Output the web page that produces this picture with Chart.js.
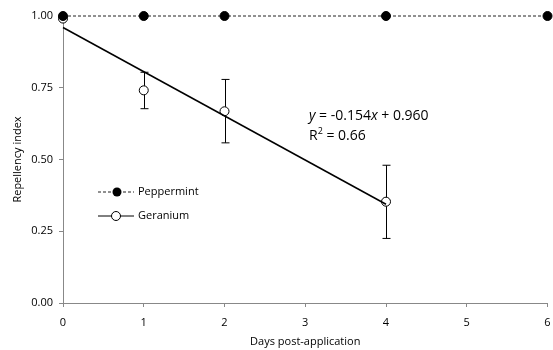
<!DOCTYPE html>
<html>
<head>
<meta charset="utf-8">
<script src="https://cdn.jsdelivr.net/npm/chart.js@4.4.1/dist/chart.umd.min.js"></script>
<style>
  html, body { margin: 0; padding: 0; background: #fff; }
  #wrap { width: 553px; height: 350px; position: relative; }
</style>
</head>
<body>
<div id="wrap"><canvas id="chart1"></canvas></div>
<script>
// datos
var days = [0, 1, 2, 4, 6];
var peppermint = [1.00, 1.00, 1.00, 1.00, 1.00];
var geraniumDays = [0, 1, 2, 4];
var geranium = [0.991, 0.741, 0.668, 0.353];
var geraniumLow = [0.991, 0.677, 0.558, 0.225];
var geraniumHigh = [0.991, 0.804, 0.779, 0.480];
var regDays = [0, 4];
var regValues = [0.960, 0.344];
var yTicks = [0, 0.25, 0.5, 0.75, 1];

var fontName = "'Open Sans', sans-serif";

function toPoints(xs, ys) {
    var pts = [];
    for (var i = 0; i < xs.length; i++) {
        pts.push({x: xs[i], y: ys[i]});
    }
    return pts;
}

// barras de error + leyenda + ecuacion
var extras = {
    id: 'extras',
    afterDatasetsDraw: function (chart) {
        var ctx = chart.ctx;
        var xs = chart.scales.x, ys = chart.scales.y;
        var area = chart.chartArea;
        ctx.save();
        ctx.strokeStyle = '#000';
        ctx.lineWidth = 1;
        for (var i = 0; i < geraniumDays.length; i++) {
            if (geraniumHigh[i] - geraniumLow[i] < 0.01) continue;
            var px = Math.round(xs.getPixelForValue(geraniumDays[i])) + 0.5;
            var pLo = ys.getPixelForValue(geraniumLow[i]);
            var pHi = ys.getPixelForValue(geraniumHigh[i]);
            var pMid = ys.getPixelForValue(geranium[i]);
            ctx.beginPath();
            ctx.moveTo(px, pHi); ctx.lineTo(px, pMid - 4.5);
            ctx.moveTo(px, pMid + 4.5); ctx.lineTo(px, pLo);
            ctx.moveTo(px - 4, pHi); ctx.lineTo(px + 4, pHi);
            ctx.moveTo(px - 4, pLo); ctx.lineTo(px + 4, pLo);
            ctx.stroke();
        }

        // leyenda
        var lx = area.left + 35, ly1 = 192, ly2 = 216;
        ctx.strokeStyle = '#222';
        ctx.setLineDash([3, 2]);
        ctx.beginPath(); ctx.moveTo(lx, ly1); ctx.lineTo(lx + 36, ly1); ctx.stroke();
        ctx.setLineDash([]);
        ctx.fillStyle = '#000';
        ctx.beginPath(); ctx.arc(lx + 19, ly1, 4.5, 0, Math.PI * 2); ctx.fill();
        ctx.strokeStyle = '#000';
        ctx.beginPath(); ctx.moveTo(lx, ly2); ctx.lineTo(lx + 36, ly2); ctx.stroke();
        ctx.fillStyle = '#fff';
        ctx.beginPath(); ctx.arc(lx + 18, ly2, 4.5, 0, Math.PI * 2); ctx.fill(); ctx.stroke();

        ctx.fillStyle = '#000';
        ctx.font = '11px ' + fontName;
        ctx.textBaseline = 'middle';
        ctx.textAlign = 'left';
        ctx.fillText('Peppermint', lx + 40, ly1);
        ctx.fillText('Geranium', lx + 40, ly2);

        // ecuacion
        var ex = 309, ey = 116;
        var parts = [['y', true], [' = -0.154', false], ['x', true], [' + 0.960', false]];
        var cx = ex;
        parts.forEach(function (p) {
            ctx.font = (p[1] ? 'italic ' : '') + '14px ' + fontName;
            ctx.fillText(p[0], cx, ey);
            cx += ctx.measureText(p[0]).width;
        });
        ctx.font = '14px ' + fontName;
        ctx.fillText('R', ex, ey + 20);
        var rw = ctx.measureText('R').width;
        ctx.font = '9px ' + fontName;
        ctx.fillText('2', ex + rw, ey + 15);
        var sw = ctx.measureText('2').width;
        ctx.font = '14px ' + fontName;
        ctx.fillText(' = 0.66', ex + rw + sw, ey + 20);
        ctx.restore();
    }
};

var popCanvas = document.getElementById('chart1');
var scatter = new Chart(popCanvas, {
    type: 'scatter',
    data: {
        datasets: [{
            label: 'Peppermint',
            data: toPoints(days, peppermint),
            showLine: true,
            borderColor: '#222',
            borderWidth: 1,
            borderDash: [3, 2],
            pointBackgroundColor: '#000',
            pointBorderColor: '#000',
            pointRadius: 4.5,
            clip: false
        }, {
            label: 'Regresion',
            data: toPoints(regDays, regValues),
            showLine: true,
            borderColor: '#000',
            borderWidth: 1.5,
            pointRadius: 0,
            clip: false
        }, {
            label: 'Geranium',
            data: toPoints(geraniumDays, geranium),
            showLine: false,
            pointBackgroundColor: '#fff',
            pointBorderColor: '#000',
            pointBorderWidth: 1,
            pointRadius: 4.5,
            clip: false
        }]
    },
    options: {
        responsive: true,
        maintainAspectRatio: false,
        animation: false,
        layout: {padding: {top: 16, right: 0, left: 0, bottom: 0}},
        plugins: {
            legend: {display: false},
            tooltip: {enabled: false}
        },
        scales: {
            x: {
                type: 'linear',
                min: 0,
                max: 6,
                ticks: {stepSize: 1, color: '#000', font: {family: fontName, size: 11}, padding: 9},
                grid: {display: true, drawOnChartArea: false, drawTicks: true, tickLength: 4, color: '#888'},
                border: {color: '#888'},
                title: {display: true, text: 'Days post-application', color: '#000', font: {family: fontName, size: 11}, padding: {top: 2, bottom: 2}},
                afterFit: function (s) { s.height = 47; s.paddingRight = 0; }
            },
            y: {
                min: 0,
                max: 1,
                afterBuildTicks: function (s) { s.ticks = yTicks.map(function (v) { return {value: v}; }); },
                ticks: {
                    color: '#000',
                    font: {family: fontName, size: 11},
                    padding: 6,
                    callback: function (v) { return Number(v).toFixed(2); }
                },
                grid: {display: true, drawOnChartArea: false, drawTicks: true, tickLength: 4, color: '#888'},
                border: {color: '#888'},
                title: {display: true, text: 'Repellency index', color: '#000', font: {family: fontName, size: 11}, padding: {top: 11, bottom: 0}},
                afterFit: function (s) { s.width = 63; }
            }
        }
    },
    plugins: [extras]
});
</script>
</body>
</html>
